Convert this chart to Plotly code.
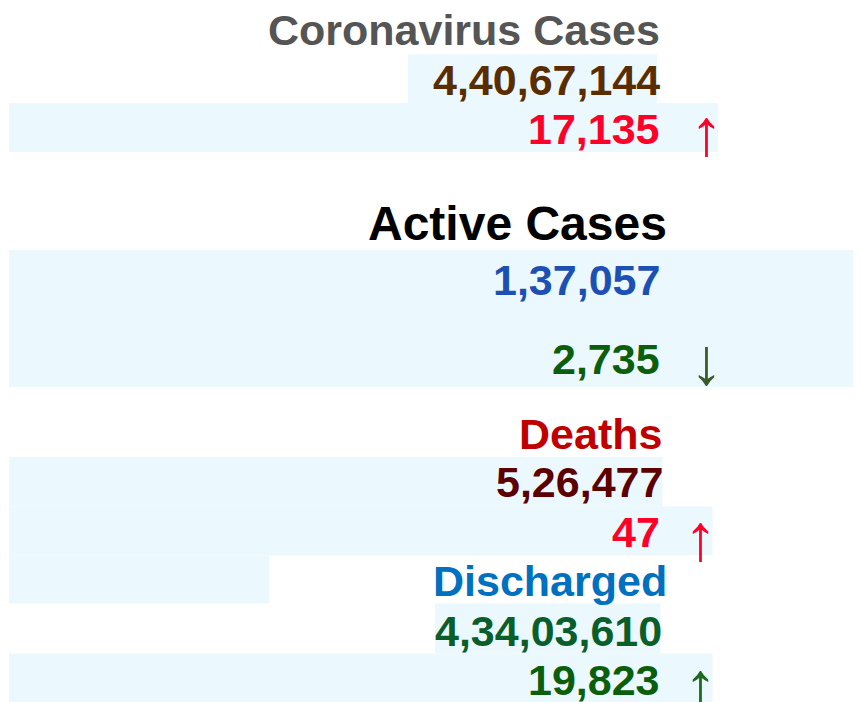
import plotly.graph_objects as go

# ---- data ----
sections = ["Coronavirus Cases", "Active Cases", "Deaths", "Discharged"]
totals = ["4,40,67,144", "1,37,057", "5,26,477", "4,34,03,610"]
changes = ["17,135", "2,735", "47", "19,823"]
arrows = ["↑", "↓", "↑", "↑"]

# ---- styles / layout (pixel positions inside the figure) ----
W, H = 861, 702
OFF = 8  # page body margin
BG = "#ebf8fe"
FONT = "Arial, Liberation Sans, sans-serif"

title_colors = ["#555555", "#000000", "#c00000", "#0070c0"]
total_colors = ["#5a2d00", "#1c50b4", "#5c0000", "#0a5e2a"]
change_colors = ["#ff0029", "#0b5e0b", "#ff0029", "#0b5e0b"]
arrow_colors = ["#ff0029", "#3b5a2a", "#ff0029", "#1d6b1d"]
title_sizes = [43, 48, 43, 43]

# reference pixel positions (right edge of text, vertical centre)
title_r = [658, 665, 660, 665]
total_r = [658, 658, 661, 660]
change_r = [658, 658, 658, 658]
title_y = [30, 224, 434, 581]
total_y = [80, 280, 482, 631]
change_y = [129, 359, 532, 680]
arrow_x = [706, 706, 700, 700]
arrow_y = [131.5, 361, 537, 685]

rects = [
    (408, 54.5, 657, 103),
    (9, 103, 718, 152),
    (9, 250, 870, 387),
    (9, 457, 662.5, 506.5),
    (9, 506.5, 712.5, 555.5),
    (9, 555.5, 269, 603.5),
    (435, 603.5, 660.5, 653.5),
    (9, 653.5, 712.5, 702),
]

PAD = 4

fig = go.Figure()
fig.add_trace(go.Scatter(x=[0, W], y=[0, H], mode="markers",
                         marker=dict(opacity=0), hoverinfo="skip", showlegend=False))

for x0, y0, x1, y1 in rects:
    fig.add_shape(type="rect", x0=x0 - OFF, x1=x1 - OFF, y0=y0 - OFF, y1=y1 - OFF,
                  fillcolor=BG, line=dict(width=0), layer="below")

for i in range(len(sections)):
    fig.add_annotation(x=title_r[i] - PAD, y=title_y[i] - OFF - 0.5, text=sections[i], showarrow=False,
                       xanchor="right", yanchor="middle",
                       font=dict(family=FONT, size=title_sizes[i], color=title_colors[i], weight="bold"))
    fig.add_annotation(x=total_r[i] - PAD, y=total_y[i] - OFF - 0.5, text=totals[i], showarrow=False,
                       xanchor="right", yanchor="middle",
                       font=dict(family=FONT, size=43, color=total_colors[i], weight="bold"))
    fig.add_annotation(x=change_r[i] - PAD, y=change_y[i] - OFF - 0.5, text=changes[i], showarrow=False,
                       xanchor="right", yanchor="middle",
                       font=dict(family=FONT, size=43, color=change_colors[i], weight="bold"))
    fig.add_annotation(x=arrow_x[i] - OFF, y=arrow_y[i] - OFF, text=arrows[i], showarrow=False,
                       xanchor="center", yanchor="middle",
                       font=dict(family=FONT, size=66, color=arrow_colors[i]))

fig.update_layout(
    width=W, height=H,
    margin=dict(l=0, r=0, t=0, b=0),
    paper_bgcolor="white", plot_bgcolor="white",
    xaxis=dict(range=[0, W], visible=False, fixedrange=True),
    yaxis=dict(range=[H, 0], visible=False, fixedrange=True),
    showlegend=False,
)

fig.write_html("out.html")
